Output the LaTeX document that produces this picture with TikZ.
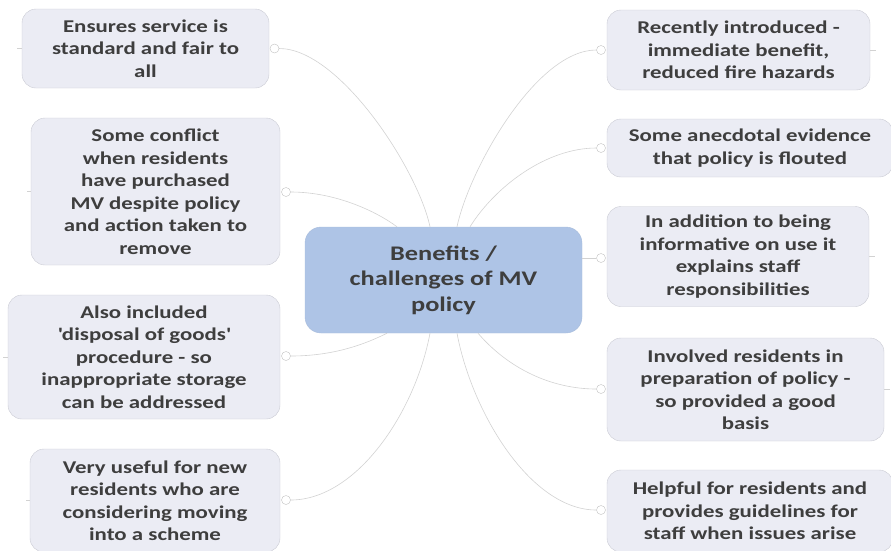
\documentclass[tikz,border=0pt]{standalone}
\usepackage{fontspec}
\setmainfont{Carlito}[FakeStretch=1.27]
\usepackage{tikz}
\tikzset{>=latex}
\definecolor{leafbg}{HTML}{EBECF4}
\definecolor{leafrim}{HTML}{CACBD4}
\definecolor{hubbg}{HTML}{AEC4E6}
\definecolor{inkgray}{HTML}{3E3E3E}
\definecolor{wire}{HTML}{D2D2D2}
\tikzset{
    idea/.style={draw=leafrim, fill=leafbg, rounded corners=14pt, align=center, inner sep=0pt, text=inkgray,
        font=\fontsize{18}{22.5}\selectfont\bfseries},
    hub/.style={draw=hubbg!90!gray, fill=hubbg, rounded corners=16pt, align=center, inner sep=0pt, text=inkgray,
        font=\fontsize{20.75}{25.5}\selectfont\bfseries},
    knob/.style={circle, draw=wire!80!gray, fill=white, minimum size=9pt, inner sep=0pt},
    link/.style={draw=wire, line width=.6pt}
}

\begin{document}
\begin{tikzpicture}[x=1pt, y=-1pt]
    \useasboundingbox (0,0) rectangle (891,550);
    % centre
    \node[hub, minimum width=277pt, minimum height=106pt] (hub) at (443.5,280) {Benefits /\\challenges of MV\\policy};
    % left side
    \node[idea, minimum width=247pt, minimum height=79pt] (l1) at (145.5,48.5) {Ensures service is\\standard and fair to\\all};
    \node[idea, minimum width=249pt, minimum height=147pt] (l2) at (155.5,191.5) {Some conflict\\when residents\\have purchased\\MV despite policy\\and action taken to\\remove};
    \node[idea, minimum width=272pt, minimum height=124pt] (l3) at (144,357) {Also included\\\textquotesingle disposal of goods\textquotesingle\\procedure - so\\inappropriate storage\\can be addressed};
    \node[idea, minimum width=250pt, minimum height=103pt] (l4) at (155,500.5) {Very useful for new\\residents who are\\considering moving\\into a scheme};
    % right side
    \node[idea, minimum width=263pt, minimum height=80pt] (r1) at (738.5,50) {Recently introduced -\\immediate benefit,\\reduced fire hazards};
    \node[idea, minimum width=286pt, minimum height=58pt] (r2) at (750,148) {Some anecdotal evidence\\that policy is flouted};
    \node[idea, minimum width=262pt, minimum height=100pt] (r3) at (738,256.5) {In addition to being\\informative on use it\\explains staff\\responsibilities};
    \node[idea, minimum width=277pt, minimum height=103pt] (r4) at (745.5,389.5) {Involved residents in\\preparation of policy -\\so provided a good\\basis};
    \node[idea, minimum width=286pt, minimum height=82pt] (r5) at (750,511) {Helpful for residents and\\provides guidelines for\\staff when issues arise};
    % knobs
    \node[knob] (kl1) at (274.5,48.5) {};
    \node[knob] (kl2) at (286,192) {};
    \node[knob] (kl3) at (286,356) {};
    \node[knob] (kl4) at (286,500) {};
    \node[knob] (kr1) at (601,50) {};
    \node[knob] (kr2) at (601,148) {};
    \node[knob] (kr3) at (601,258) {};
    \node[knob] (kr4) at (601,389) {};
    \node[knob] (kr5) at (601,510) {};
    % branches
    \draw[link]([xshift=-13.5pt]hub.north) .. controls +(-12,-57) and +(65,0) .. (kl1);
    \draw[link]([xshift=-46.5pt]hub.north) .. controls +(-20,-15) and +(50,0) .. (kl2);
    \draw[link]([xshift=-56.5pt]hub.south) .. controls +(-30,15) and +(40,0) .. (kl3);
    \draw[link]([xshift=-13.5pt]hub.south) .. controls +(-15,80) and +(70,0) .. (kl4);
    \draw[link]([xshift=13.5pt]hub.north) .. controls +(12,-57) and +(-65,0) .. (kr1);
    \draw[link]([xshift=26.5pt]hub.north) .. controls +(25,-40) and +(-55,0) .. (kr2);
    \draw[link](hub.east |- kr3) -- (kr3);
    \draw[link]([xshift=34.5pt]hub.south) .. controls +(30,35) and +(-50,0) .. (kr4);
    \draw[link]([xshift=13.5pt]hub.south) .. controls +(15,80) and +(-70,0) .. (kr5);
    % stubs on the outer side
    \draw[link](l1.west) -- +(-5,0);
    \draw[link](l2.west) -- +(-4,0);
    \draw[link](l3.west) -- +(-5,0);
    \draw[link](l4.west) -- +(-4,0);
    \draw[link](r1.east) -- +(6,0);
    \draw[link](r3.east) -- +(6,0);
    \draw[link](r4.east) -- +(6,0);
\end{tikzpicture}
\end{document}
